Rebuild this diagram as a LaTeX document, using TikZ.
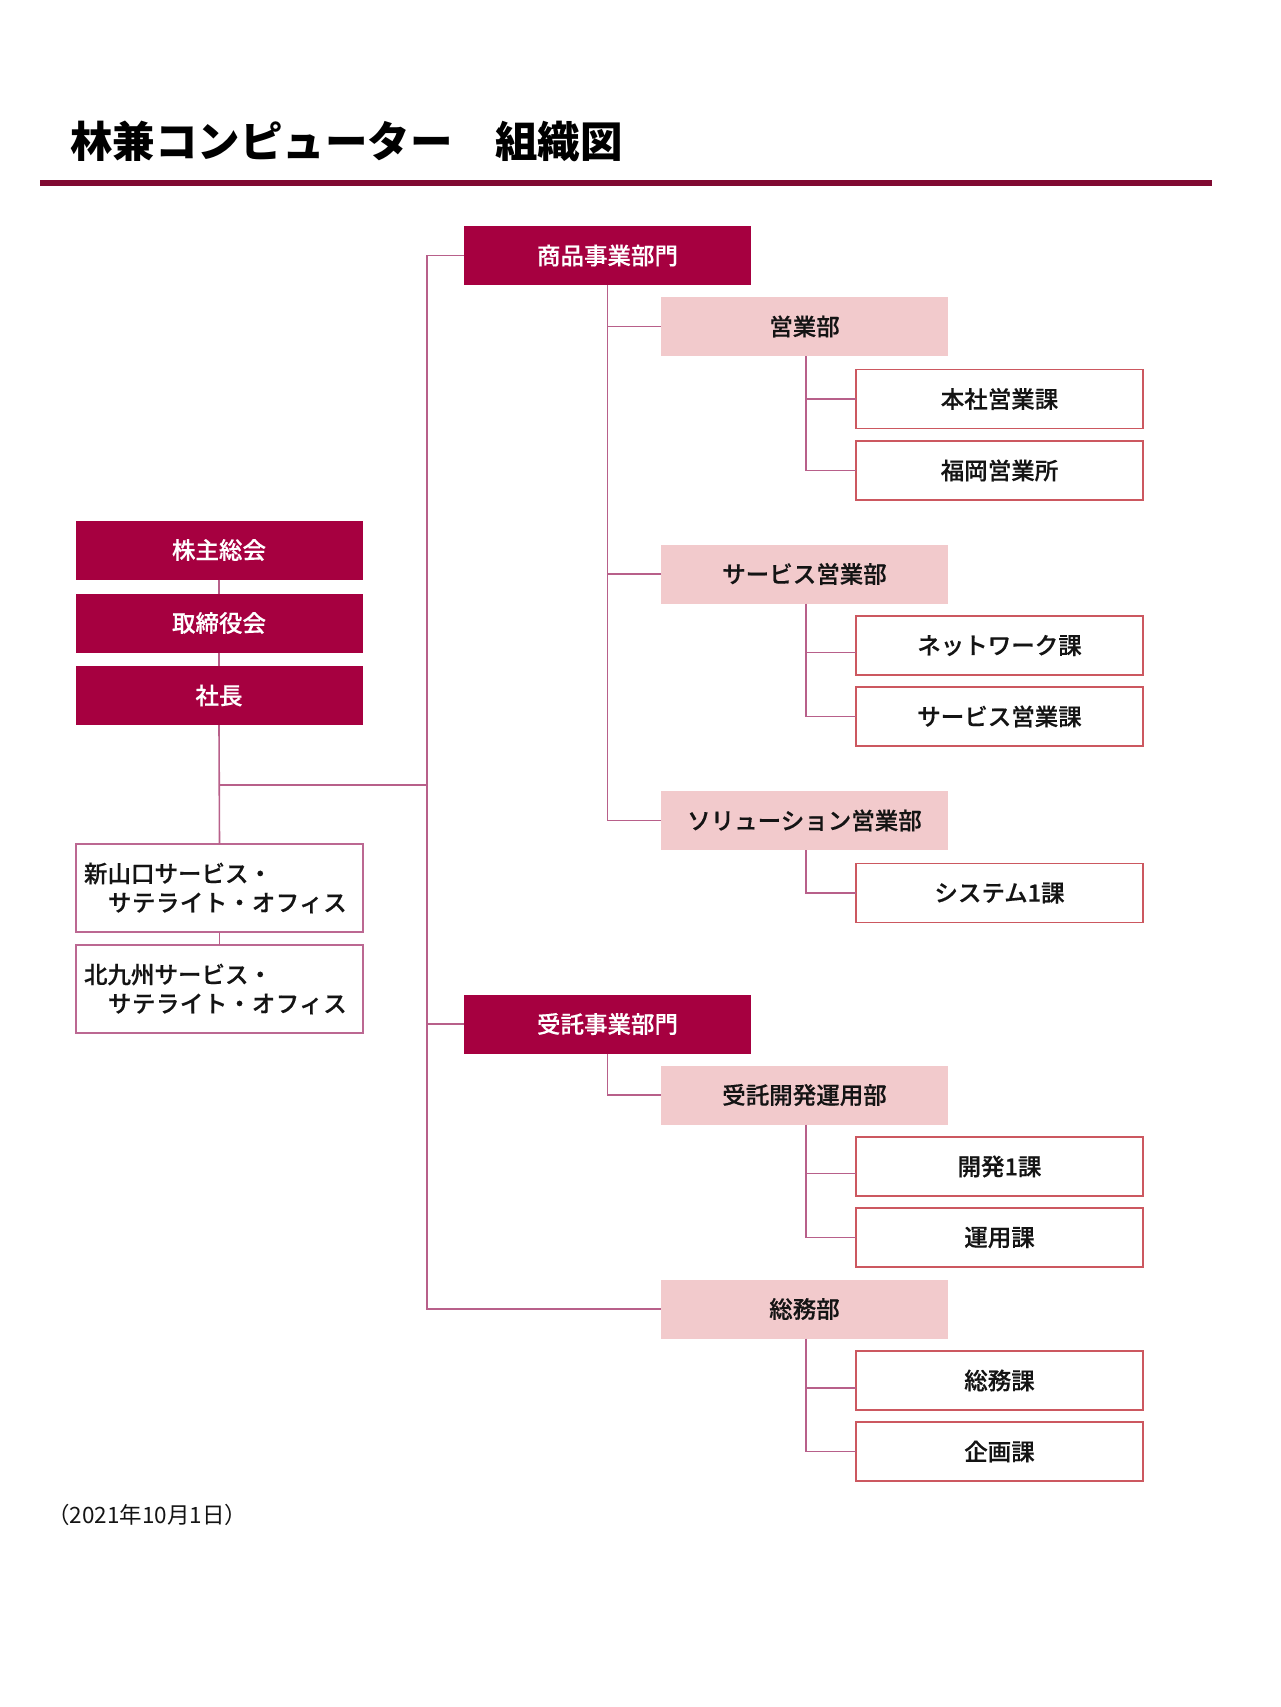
\documentclass[tikz,border=0pt]{standalone}
\usepackage{fontspec}
\setmainfont{Noto Sans CJK JP}
\newfontfamily\jpmed{Noto Sans CJK JP Medium}[FakeBold=0.4]
\newfontfamily\jpwide{Noto Sans CJK JP Medium}[LetterSpace=2,FakeBold=0.4]
\definecolor{maroon}{RGB}{166,0,64}
\definecolor{pinkfill}{RGB}{242,202,204}
\definecolor{rulecol}{RGB}{128,10,50}
\definecolor{conncol}{RGB}{184,96,138}
\definecolor{redborder}{RGB}{204,88,96}
\definecolor{mauveborder}{RGB}{188,104,146}
\definecolor{txt}{RGB}{20,20,20}
\tikzset{
  box/.style={minimum width=287pt, minimum height=59pt, inner sep=0pt, outer sep=0pt,
    font=\jpmed\fontsize{23.5}{28}\selectfont},
  darkbox/.style={box, fill=maroon, text=white},
  pinkbox/.style={box, fill=pinkfill, text=txt},
  whitebox/.style={box, fill=white, draw=redborder, line width=1.8pt, text=txt},
  leftbox/.style={box, minimum height=88pt, fill=white, draw=mauveborder, line width=1.8pt,
    text=txt, align=left, text width=271pt, inner xsep=8pt,
    font=\jpmed\fontsize{23.5}{29}\selectfont},
  conn/.style={draw=conncol, line width=1.6pt},
}
\begin{document}
\begin{tikzpicture}[x=1pt, y=-1pt]
\useasboundingbox (0,0) rectangle (1280,1707);
% title
\node[anchor=west, inner sep=0pt, text=black, font=\bfseries\fontsize{42.5}{50}\selectfont] (title) at (70,141.5) {林兼コンピューター　組織図};
\coordinate (ruleL) at (40,183);
\coordinate (ruleR) at (1212,183);
\draw[rulecol, line width=5.5pt] (ruleL) -- (ruleR);

% left column
\node[darkbox] (kabu) at (219,550) {株主総会};
\node[darkbox] (tori) at (219,623) {取締役会};
\node[darkbox] (shacho) at (219,695.5) {社長};
\node[leftbox] (shinyama) at (219.5,888) {新山口サービス・\\{\jpwide 　サテライト・オフィス}};
\node[leftbox] (kita) at (219.5,989) {北九州サービス・\\{\jpwide 　サテライト・オフィス}};

% divisions
\node[darkbox] (shohin) at (607.5,255.5) {商品事業部門};
\node[darkbox] (jutaku) at (607.5,1024) {受託事業部門};

% departments
\node[pinkbox] (eigyo) at (804.5,326.5) {営業部};
\node[pinkbox] (service) at (804.5,574) {サービス営業部};
\node[pinkbox] (solution) at (804.5,820.5) {ソリューション営業部};
\node[pinkbox] (kaihatsu) at (804.5,1095) {受託開発運用部};
\node[pinkbox] (somu) at (804.5,1309) {総務部};

% sections
\node[whitebox] (honsha) at (999.5,399) {本社営業課};
\node[whitebox] (fukuoka) at (999.5,470.5) {福岡営業所};
\node[whitebox] (network) at (999.5,645.5) {ネットワーク課};
\node[whitebox] (servicek) at (999.5,716.5) {サービス営業課};
\node[whitebox] (system) at (999.5,893) {システム1課};
\node[whitebox] (kaihatsu1) at (999.5,1166.5) {開発1課};
\node[whitebox] (unyo) at (999.5,1237.5) {運用課};
\node[whitebox] (somuka) at (999.5,1380.5) {総務課};
\node[whitebox] (kikaku) at (999.5,1451.5) {企画課};

% date
\node[anchor=west, inner sep=0pt, text=txt, font=\fontsize{22.5}{27}\selectfont] (date) at (47,1515) {（2021年10月1日）};

% connectors: left column
\draw[conn] (kabu.south) -- (tori.north);
\draw[conn] (tori.south) -- (shacho.north);
\draw[conn] (shacho.south) -- (shinyama.north);
\draw[conn] (shinyama.south) -- (kita.north);
\coordinate (tj) at (219,785);
\coordinate (lt) at (427,255.5);
\coordinate (lb) at (427,1309);
\draw[conn] (tj) -- (tj -| lt);
\draw[conn] (shohin.west) -- (lt) -- (lb) -- (somu.west);
\draw[conn] (jutaku.west) -- (jutaku.west -| lt);

% connectors: divisions to departments
\draw[conn] (shohin.south) |- (solution.west);
\draw[conn] (shohin.south |- eigyo.west) -- (eigyo.west);
\draw[conn] (shohin.south |- service.west) -- (service.west);
\draw[conn] (jutaku.south) |- (kaihatsu.west);

% connectors: departments to sections
\draw[conn] ([xshift=1.5pt]eigyo.south) |- (fukuoka.west);
\draw[conn] ([xshift=1.5pt]eigyo.south |- honsha.west) -- (honsha.west);
\draw[conn] ([xshift=1.5pt]service.south) |- (servicek.west);
\draw[conn] ([xshift=1.5pt,yshift=-7pt]service.south |- network.west) -- ([yshift=-7pt]network.west);
\draw[conn] ([xshift=1.5pt]solution.south) |- (system.west);
\draw[conn] ([xshift=1.5pt]kaihatsu.south) |- (unyo.west);
\draw[conn] ([xshift=1.5pt,yshift=-7pt]kaihatsu.south |- kaihatsu1.west) -- ([yshift=-7pt]kaihatsu1.west);
\draw[conn] ([xshift=1.5pt]somu.south) |- (kikaku.west);
\draw[conn] ([xshift=1.5pt,yshift=-7.5pt]somu.south |- somuka.west) -- ([yshift=-7.5pt]somuka.west);
\end{tikzpicture}
\end{document}
